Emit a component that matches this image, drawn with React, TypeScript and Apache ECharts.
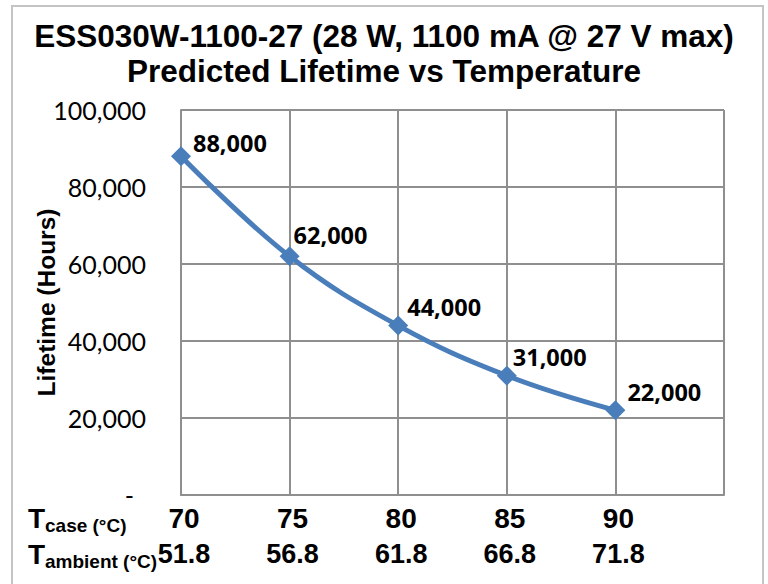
import React, { useEffect, useRef } from "react";
import * as echarts from "echarts";

const tCase = [70, 75, 80, 85, 90];
const tAmbient = ["51.8", "56.8", "61.8", "66.8", "71.8"];
const lifetimeHours = [88000, 62000, 44000, 31000, 22000];
const titleLines = [
  "ESS030W-1100-27 (28 W, 1100 mA @ 27 V max)",
  "Predicted Lifetime vs Temperature",
];

const fmt = (v: number) => v.toLocaleString("en-US");

export default function App() {
  const ref = useRef<HTMLDivElement>(null);
  useEffect(() => {
    if (!ref.current) return;
    const chart = echarts.init(ref.current, null, { renderer: "svg" });
    const labelNudge = [
      [12, -13],
      [4, -21],
      [9, -19],
      [6, -19],
      [12, -18],
    ];
    const gridColor = "#8f8f8f";
    const option = {
      animation: false,
      backgroundColor: "#ffffff",
      title: {
        text: titleLines.join("\n"),
        left: "center",
        top: 13,
        textStyle: {
          fontFamily: "Liberation Sans",
          fontWeight: "bold",
          fontSize: 31.5,
          lineHeight: 35,
          color: "#000",
        },
      },
      grid: { left: 181, right: 44, top: 110, bottom: 89 },
      xAxis: {
        type: "value",
        min: 70,
        max: 95,
        interval: 5,
        axisLine: { show: true, lineStyle: { color: gridColor, width: 2 } },
        axisTick: { show: false },
        splitLine: { show: true, lineStyle: { color: gridColor, width: 2 } },
        axisLabel: {
          margin: 5,
          formatter: (v: number) => {
            const i = tCase.indexOf(v);
            if (i < 0) return "";
            return `{a|${tCase[i]}}\n{b|${tAmbient[i]}}`;
          },
          rich: {
            a: {
              fontFamily: "Liberation Sans",
              fontWeight: "bold",
              fontSize: 28,
              lineHeight: 36,
              color: "#000",
              padding: [0, 0, 0, 6],
            },
            b: {
              fontFamily: "Liberation Sans",
              fontWeight: "bold",
              fontSize: 27,
              lineHeight: 36,
              color: "#000",
              padding: [0, 0, 0, 6],
            },
          },
        },
      },
      yAxis: {
        type: "value",
        min: 0,
        max: 100000,
        interval: 20000,
        name: "Lifetime (Hours)",
        nameLocation: "middle",
        nameGap: 122,
        nameMoveOverlap: false,
        nameTextStyle: {
          fontFamily: "Liberation Sans",
          fontWeight: "bold",
          fontSize: 24.5,
          color: "#000",
        },
        axisLine: { show: true, lineStyle: { color: gridColor, width: 2 } },
        axisTick: { show: false },
        splitLine: { show: true, lineStyle: { color: gridColor, width: 2 } },
        axisLabel: {
          margin: 35,
          fontFamily: "Lato",
          fontSize: 25,
          color: "#000",
          formatter: (v: number) => (v === 0 ? "{d|-}" : fmt(v)),
          rich: {
            d: {
              fontFamily: "Lato",
              fontSize: 25,
              color: "#000",
              padding: [0, 12, 0, 0],
            },
          },
        },
      },
      series: [
        {
          type: "line",
          smooth: 0.4,
          symbol: "diamond",
          symbolSize: 20,
          lineStyle: { color: "#4A7EBB", width: 5 },
          itemStyle: { color: "#4A7EBB" },
          data: tCase.map((x, i) => ({
            value: [x, lifetimeHours[i]],
            label: { offset: labelNudge[i] },
          })),
          label: {
            show: true,
            position: "inside",
            align: "left",
            verticalAlign: "middle",
            fontFamily: "Open Sans",
            fontWeight: "bold",
            fontSize: 23.5,
            color: "#000",
            formatter: (p: any) => fmt(p.value[1]),
          },
        },
      ],
      graphic: [
        {
          type: "rect",
          shape: { x: 12, y: 6, width: 751, height: 640 },
          style: { fill: "none", stroke: "#c4c4c4", lineWidth: 2 },
          z: -1,
        },
        {
          type: "text",
          x: 28,
          y: 518,
          style: {
            text: "T",
            fontFamily: "Liberation Sans",
            fontWeight: "bold",
            fontSize: 28,
            fill: "#000",
            verticalAlign: "middle",
          },
        },
        {
          type: "text",
          x: 45,
          y: 525,
          style: {
            text: "case (°C)",
            fontFamily: "Liberation Sans",
            fontWeight: "bold",
            fontSize: 19,
            fill: "#000",
            verticalAlign: "middle",
          },
        },
        {
          type: "text",
          x: 28,
          y: 554,
          style: {
            text: "T",
            fontFamily: "Liberation Sans",
            fontWeight: "bold",
            fontSize: 28,
            fill: "#000",
            verticalAlign: "middle",
          },
        },
        {
          type: "text",
          x: 45,
          y: 561,
          style: {
            text: "ambient (°C)",
            fontFamily: "Liberation Sans",
            fontWeight: "bold",
            fontSize: 19,
            fill: "#000",
            verticalAlign: "middle",
          },
        },
      ],
    };
    chart.setOption(option as any);
    return () => chart.dispose();
  }, []);
  return (
    <div
      ref={ref}
      style={{ position: "fixed", left: 0, top: 0, width: 768, height: 584 }}
    />
  );
}
